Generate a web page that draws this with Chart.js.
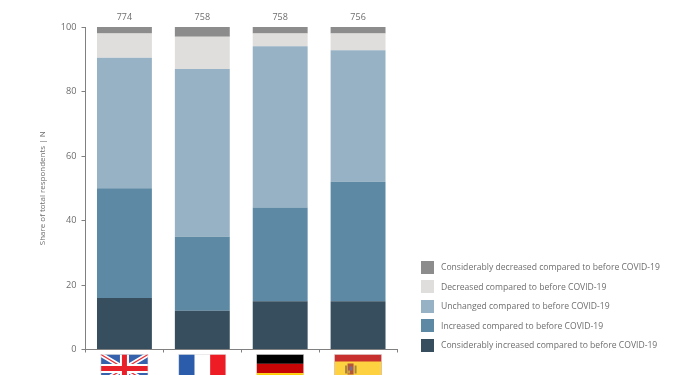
<!DOCTYPE html>
<html>
<head>
<meta charset="utf-8">
<script src="https://cdn.jsdelivr.net/npm/chart.js@4"></script>
<style>
  html, body { margin: 0; padding: 0; background: #fff; }
  #wrap { position: relative; width: 700px; height: 375px; overflow: hidden; }
  #legend { position: absolute; left: 421px; top: 258px; font: 8.6px "Open Sans", sans-serif; color: #6e6e6e; }
  #legend div { height: 19.5px; line-height: 19px; white-space: nowrap; }
  #legend i { display: inline-block; width: 13px; height: 13px; margin-right: 7px; vertical-align: -3.5px; }
</style>
</head>
<body>
<div id="wrap">
  <canvas id="chart" width="700" height="375"></canvas>
  <div id="legend"></div>
</div>
<script>
const countries = ["UK", "France", "Germany", "Spain"];
const totals = [774, 758, 758, 756];

const consIncreased = [16, 12, 15, 15];
const increased = [34, 23, 29, 37];
const unchanged = [40.5, 52, 50, 40.8];
const decreased = [7.5, 10, 4, 5.2];
const consDecreased = [2, 3, 2, 2];

const yTicks = [0, 20, 40, 60, 80, 100];
const axisTitle = "Share of total respondents | N";

const seriesNames = [
  "Considerably increased compared to before COVID-19",
  "Increased compared to before COVID-19",
  "Unchanged compared to before COVID-19",
  "Decreased compared to before COVID-19",
  "Considerably decreased compared to before COVID-19",
];
const seriesValues = [consIncreased, increased, unchanged, decreased, consDecreased];
const seriesColors = ["#364e5e", "#5d89a5", "#98b2c5", "#dfdedc", "#8c8c8c"];

const grey = "#808080";
const textGrey = "#6e6e6e";
const fontName = '"Open Sans", sans-serif';

// flags, each one drawn in a 47x28 box, the page cuts off the bottom
function drawUK(c, w, h) {
  c.fillStyle = "#3561ad";
  c.fillRect(0, 0, w, h);
  c.strokeStyle = "#fff";
  c.lineWidth = 4.5;
  c.beginPath();
  c.moveTo(0, 0); c.lineTo(w, h);
  c.moveTo(w, 0); c.lineTo(0, h);
  c.stroke();
  c.strokeStyle = "#e8303a";
  c.lineWidth = 1.3;
  c.stroke();
  c.fillStyle = "#fff";
  c.fillRect(w / 2 - 4.5, 0, 9, h);
  c.fillRect(0, h / 2 - 4.5, w, 9);
  c.fillStyle = "#e8202a";
  c.fillRect(w / 2 - 2.5, 0, 5, h);
  c.fillRect(0, h / 2 - 2.5, w, 5);
}
function drawFrance(c, w, h) {
  c.fillStyle = "#fff";
  c.fillRect(0, 0, w, h);
  c.fillStyle = "#2b5cab";
  c.fillRect(0, 0, w / 3, h);
  c.fillStyle = "#ee1c25";
  c.fillRect(w * 2 / 3, 0, w / 3, h);
}
function drawGermany(c, w, h) {
  c.fillStyle = "#000";
  c.fillRect(0, 0, w, h / 3);
  c.fillStyle = "#c70505";
  c.fillRect(0, h / 3, w, h / 3);
  c.fillStyle = "#ffce00";
  c.fillRect(0, h * 2 / 3, w, h / 3);
}
function drawSpain(c, w, h) {
  c.fillStyle = "#c8302f";
  c.fillRect(0, 0, w, h);
  c.fillStyle = "#fdd13f";
  c.fillRect(0, h / 4, w, h / 2);
  // rough coat of arms
  c.fillStyle = "#a9863f";
  c.fillRect(10.5, 11, 2, 8);
  c.fillRect(20, 11, 2, 8);
  c.fillStyle = "#b5553a";
  c.fillRect(13, 9, 6, 11);
  c.fillStyle = "#7d6f8c";
  c.fillRect(15, 12, 3, 4);
  c.fillStyle = "#c8a23f";
  c.fillRect(13.5, 16, 2, 3);
}
const flags = [drawUK, drawFrance, drawGermany, drawSpain];

// totals above the bars and flags below the axis
const extras = {
  id: "extras",
  afterDraw(chart) {
    const c = chart.ctx;
    const x = chart.scales.x;
    const top = chart.chartArea.top;
    const bottom = chart.chartArea.bottom;
    c.save();
    c.font = "9px " + fontName;
    c.fillStyle = textGrey;
    c.textAlign = "center";
    c.textBaseline = "alphabetic";
    totals.forEach((t, i) => c.fillText(t, x.getPixelForValue(i), top - 7));
    flags.forEach((draw, i) => {
      c.save();
      c.translate(x.getPixelForValue(i) - 23.5, bottom + 5);
      draw(c, 47, 28);
      c.strokeStyle = "#d8d8d8";
      c.lineWidth = 0.5;
      c.strokeRect(0, 0, 47, 28);
      c.restore();
    });
    c.restore();
  },
};

new Chart(document.getElementById("chart").getContext("2d"), {
  type: "bar",
  data: {
    labels: countries,
    datasets: seriesNames.map((name, i) => ({
      label: name,
      data: seriesValues[i],
      backgroundColor: seriesColors[i],
      borderWidth: 0,
      categoryPercentage: 1,
      barPercentage: 0.705,
    })),
  },
  options: {
    responsive: false,
    animation: false,
    layout: { padding: { top: 27, right: 303, bottom: 0, left: 38 } },
    plugins: { legend: { display: false }, tooltip: { enabled: false } },
    scales: {
      x: {
        stacked: true,
        afterFit: (s) => { s.height = 25.5; },
        grid: { drawOnChartArea: false, color: grey, tickLength: 3 },
        border: { color: grey },
        ticks: { display: false },
      },
      y: {
        stacked: true,
        min: 0,
        max: 100,
        afterFit: (s) => { s.width = 47.5; },
        afterBuildTicks: (s) => { s.ticks = yTicks.map((v) => ({ value: v })); },
        grid: { drawOnChartArea: false, color: grey, tickLength: 4 },
        border: { color: grey },
        ticks: { color: textGrey, font: { family: fontName, size: 9.2 }, padding: 5 },
        title: {
          display: true,
          text: axisTitle,
          color: textGrey,
          font: { family: fontName, size: 8 },
          padding: { top: 0, bottom: 0 },
        },
      },
    },
  },
  plugins: [extras],
});

// legend runs top to bottom in the same order as the stack
const legend = document.getElementById("legend");
seriesNames.slice().reverse().forEach((name, i) => {
  const row = document.createElement("div");
  const box = document.createElement("i");
  box.style.background = seriesColors[seriesColors.length - 1 - i];
  row.appendChild(box);
  row.appendChild(document.createTextNode(name));
  legend.appendChild(row);
});
</script>
</body>
</html>
